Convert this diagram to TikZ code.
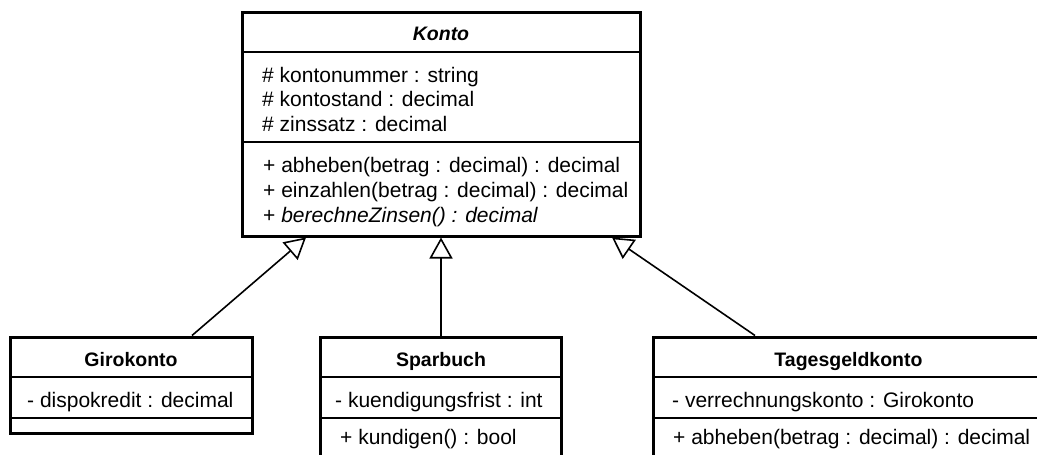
\documentclass[tikz,border=0pt]{standalone}
\usepackage{fontspec}
\setmainfont{Liberation Sans}
\usetikzlibrary{arrows.meta,calc}
\newcommand\memfont{\fontsize{21}{24}\selectfont}
\newcommand\ttlfont{\fontsize{19.5}{24}\selectfont\bfseries}
\tikzset{uml/.style={line join=miter,x=1pt,y=1pt},
  cls/.style={draw,line width=3pt,inner sep=0pt},
  sep/.style={line width=1.6pt},
  gen/.style={line width=1.6pt,-{Triangle[open,length=21pt,width=23pt]}},
  ttl/.style={anchor=base,inner sep=0pt,font=\ttlfont},
  mem/.style={anchor=base west,inner sep=0pt,font=\memfont}}

\begin{document}
\begin{tikzpicture}[uml]
  \useasboundingbox(0,0)rectangle(1037,-455);\clip(0,0)rectangle(1037,-455);
  % abstract base class
  \node[cls,minimum width=398,minimum height=224](konto)at(441,-124){};
  \draw[sep](242,-52)--(640,-52);\draw[sep](242,-142)--(640,-142);
  \node[ttl](kontoT)at(441,-40.5){\itshape Konto};
  \node[mem](kA1)at(262,-82){\# kontonummer : string};
  \node[mem](kA2)at(262,-106.5){\# kontostand : decimal};
  \node[mem](kA3)at(262,-131){\# zinssatz : decimal};
  \node[mem](kM1)at(263,-172){+ abheben(betrag : decimal) : decimal};
  \node[mem](kM2)at(263,-197){+ einzahlen(betrag : decimal) : decimal};
  \node[mem](kM3)at(263,-222){+ \textit{berechneZinsen() : decimal}};
  % subclasses
  \node[cls,minimum width=242,minimum height=96](giro)at(131,-385){};
  \draw[sep](10,-377)--(252,-377);\draw[sep](10,-418)--(252,-418);
  \node[ttl](giroT)at(131,-366.5){Girokonto};
  \node[mem](gA1)at(27,-407){- dispokredit : decimal};
  \node[cls,minimum width=241,minimum height=150](spar)at(441,-412){};
  \draw[sep](320,-377)--(561,-377);\draw[sep](320,-418)--(561,-418);
  \node[ttl](sparT)at(441,-366.5){Sparbuch};
  \node[mem](sA1)at(335,-407){- kuendigungsfrist : int};
  \node[mem](sM1)at(340,-444){+ kundigen() : bool};
  \node[cls,minimum width=395,minimum height=150](tages)at(850.5,-412){};
  \draw[sep](653,-377)--(1048,-377);\draw[sep](653,-418)--(1048,-418);
  \node[ttl](tagesT)at(848.5,-366.5){Tagesgeldkonto};
  \node[mem](tA1)at(672,-407){- verrechnungskonto : Girokonto};
  \node[mem](tM1)at(673,-444){+ abheben(betrag : decimal) : decimal};
  % generalisations
  \draw[gen]($(giro.north)+(61,0)$)--($(konto.south)+(-135,0)$);
  \draw[gen](spar.north)--(konto.south);
  \draw[gen]($(tages.north)+(-95.5,0)$)--($(konto.south)+(171,0)$);
\end{tikzpicture}
\end{document}
